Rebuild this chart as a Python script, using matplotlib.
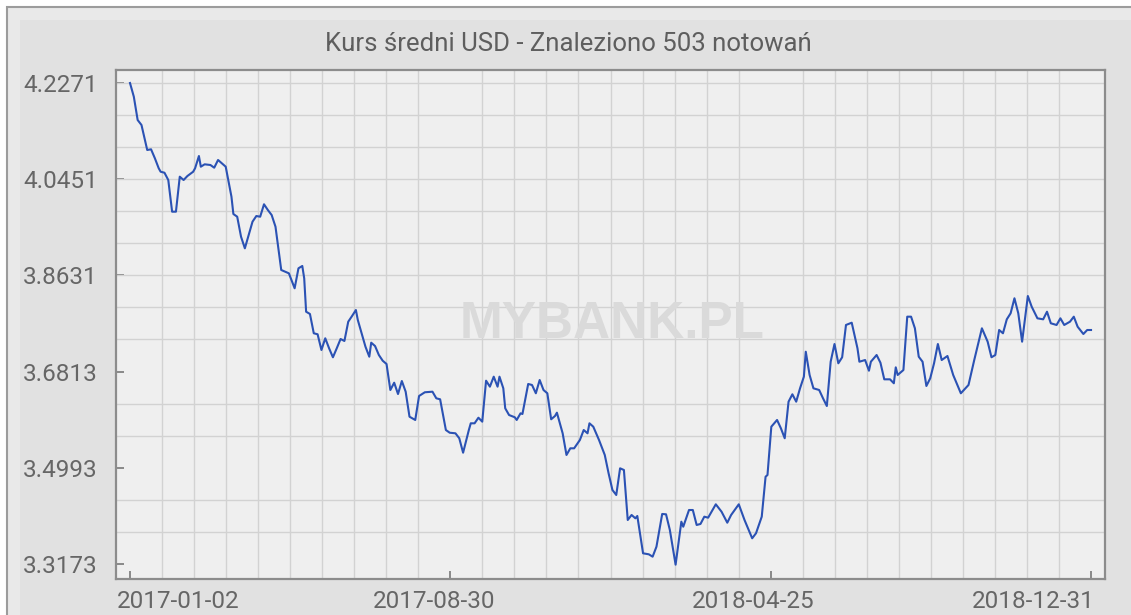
import matplotlib
matplotlib.use('Agg')
import matplotlib.pyplot as plt
import matplotlib.transforms as mtransforms
from matplotlib.patches import Rectangle

# trading-day index (0 = 2017-01-02, 502 = 2018-12-31) and average USD rate
day_index = [0, 2, 4, 6, 8, 9, 11, 13, 15, 16, 18, 20, 22, 24, 26, 28, 30, 33, 34, 36,
             37, 39, 42, 44, 46, 48, 50, 51, 53, 54, 56, 58, 60, 62, 64, 66, 68, 70, 72, 74,
             76, 79, 83, 86, 88, 90, 91, 92, 94, 96, 98, 100, 102, 104, 106, 108, 110, 112, 114, 116,
             118, 119, 123, 125, 126, 128, 130, 132, 134, 136, 138, 140, 142, 144, 146, 149, 151, 154, 158, 160,
             162, 165, 167, 170, 172, 174, 177, 178, 180, 182, 184, 186, 188, 190, 192, 193, 195, 196, 198, 201,
             202, 204, 205, 208, 210, 212, 214, 216, 218, 220, 222, 223, 226, 228, 230, 232, 235, 237, 239, 240,
             242, 245, 248, 250, 252, 254, 256, 258, 260, 262, 264, 265, 268, 271, 273, 275, 278, 280, 282, 285,
             288, 289, 292, 294, 296, 298, 300, 302, 306, 309, 312, 314, 318, 321, 325, 327, 330, 332, 333, 335,
             338, 340, 342, 344, 346, 348, 350, 352, 353, 355, 357, 360, 362, 364, 366, 368, 370, 372, 374, 377,
             380, 381, 384, 386, 387, 390, 392, 394, 397, 399, 400, 401, 404, 406, 408, 410, 412, 414, 416, 418,
             420, 422, 424, 427, 430, 434, 438, 441, 445, 448, 450, 452, 454, 456, 458, 460, 462, 464, 466, 469,
             471, 474, 477, 479, 481, 484, 486, 488, 491, 493, 495, 498, 500, 502]
usd_rate = [4.2271, 4.2012, 4.1571, 4.1477, 4.1161, 4.1004, 4.1017, 4.0847, 4.0658, 4.0593,
            4.0574, 4.0436, 3.9837, 3.9837, 4.0499, 4.0436, 4.0512, 4.0593, 4.0658, 4.0890,
            4.0688, 4.0733, 4.0720, 4.0669, 4.0815, 4.0752, 4.0688, 4.0499, 4.0120, 3.9793,
            3.9742, 3.9364, 3.9144, 3.9396, 3.9648, 3.9755, 3.9742, 3.9977, 3.9869, 3.9774,
            3.9553, 3.8734, 3.8671, 3.8388, 3.8766, 3.8810, 3.8577, 3.7945, 3.7902, 3.7537,
            3.7518, 3.7221, 3.7442, 3.7253, 3.7083, 3.7253, 3.7429, 3.7391, 3.7756, 3.7864,
            3.7977, 3.7788, 3.7283, 3.7094, 3.7359, 3.7296, 3.7126, 3.7018, 3.6956, 3.6464,
            3.6602, 3.6388, 3.6634, 3.6432, 3.5959, 3.5897, 3.6351, 3.6421, 3.6432, 3.6307,
            3.6288, 3.5707, 3.5656, 3.5645, 3.5551, 3.5278, 3.5707, 3.5834, 3.5834, 3.5940,
            3.5865, 3.6640, 3.6527, 3.6716, 3.6527, 3.6716, 3.6496, 3.6118, 3.5991, 3.5948,
            3.5897, 3.6023, 3.6010, 3.6578, 3.6559, 3.6402, 3.6653, 3.6464, 3.6402, 3.5910,
            3.5972, 3.6035, 3.5645, 3.5235, 3.5361, 3.5361, 3.5518, 3.5707, 3.5645, 3.5834,
            3.5770, 3.5518, 3.5235, 3.4888, 3.4573, 3.4478, 3.4983, 3.4951, 3.4005, 3.4100,
            3.4037, 3.4081, 3.3375, 3.3356, 3.3311, 3.3500, 3.4119, 3.4113, 3.3816, 3.3160,
            3.3973, 3.3878, 3.4194, 3.4194, 3.3911, 3.3930, 3.4068, 3.4049, 3.4302, 3.4162,
            3.3954, 3.4100, 3.4302, 3.4005, 3.3659, 3.3754, 3.4068, 3.4824, 3.4856, 3.5770,
            3.5897, 3.5740, 3.5551, 3.6243, 3.6383, 3.6243, 3.6496, 3.6716, 3.7188, 3.6748,
            3.6496, 3.6464, 3.6307, 3.6161, 3.6999, 3.7334, 3.6969, 3.7083, 3.7694, 3.7737,
            3.7253, 3.6999, 3.7031, 3.6829, 3.6999, 3.7126, 3.6980, 3.6666, 3.6666, 3.6591,
            3.6893, 3.6748, 3.6842, 3.7851, 3.7851, 3.7631, 3.7094, 3.6999, 3.6540, 3.6685,
            3.6969, 3.7334, 3.7031, 3.7107, 3.6748, 3.6402, 3.6559, 3.7031, 3.7631, 3.7378,
            3.7083, 3.7126, 3.7599, 3.7537, 3.7801, 3.7915, 3.8199, 3.7915, 3.7378, 3.8242,
            3.8040, 3.7820, 3.7801, 3.7945, 3.7726, 3.7694, 3.7820, 3.7694, 3.7756, 3.7851,
            3.7661, 3.7523, 3.7599, 3.7599]

tick_index = [0, 167.33, 334.67, 502]
tick_dates = ['2017-01-02', '2017-08-30', '2018-04-25', '2018-12-31']
y_ticks = [3.3173, 3.4993, 3.6813, 3.8631, 4.0451, 4.2271]
title = 'Kurs średni USD - Znaleziono 503 notowań'

W, H = 1131, 615
plt.rcParams['font.family'] = ['Roboto', 'DejaVu Sans']


def fig_box(x0, y0, x1, y1):
    """pixel box (top-left origin) -> figure fraction rect"""
    return (x0 / W, 1 - y1 / H, (x1 - x0) / W, (y1 - y0) / H)


fig = plt.figure(figsize=(W / 100, H / 100), dpi=100)
fig.patch.set_facecolor('white')

x, y, w, h = fig_box(7, 7, W + 5, H + 5)
fig.add_artist(Rectangle((x, y), w, h, transform=fig.transFigure,
                         facecolor='#e9e9e9', edgecolor='#9c9c9c', linewidth=1.5, zorder=0))
x, y, w, h = fig_box(20, 20, W + 5, H + 5)
fig.add_artist(Rectangle((x, y), w, h, transform=fig.transFigure,
                         facecolor='#e1e1e1', edgecolor='none', zorder=0))

fig.text(568 / W, 1 - 44 / H, title, ha='center', va='center', fontsize=18.5, color='#5e5e5e')

ax = fig.add_axes(fig_box(116, 70, 1105, 579))
ax.set_facecolor('#efefef')
ax.plot(day_index, usd_rate, color='#2b52b4', linewidth=1.5, zorder=3)

ax.set_xlim(-7.31, 509.3)
ax.set_ylim(3.2889, 4.2517)

# grid: three lines per y tick step, ten per x tick step
y_step = (y_ticks[1] - y_ticks[0]) / 3
ax.set_yticks([y_ticks[0] + i * y_step for i in range(16)], minor=True)
ax.set_xticks([i * 502 / 30 for i in range(31)], minor=True)
ax.grid(which='minor', color='#d2d2d2', linewidth=1)
ax.set_axisbelow(True)

ax.set_yticks(y_ticks)
ax.set_yticklabels([f'{v:.4f}' for v in y_ticks])
ax.set_xticks(tick_index)
ax.set_xticklabels(tick_dates)
ax.tick_params(which='major', direction='in', length=6, width=1.2, color='#777777',
               labelcolor='#666666', labelsize=17.5)
ax.tick_params(axis='y', pad=13)
ax.tick_params(axis='x', pad=8)
ax.tick_params(which='minor', length=0)

# label anchors as in the original widget
x_shift = [48, -16, -18, -58]
for lab, dx in zip(ax.get_xticklabels(), x_shift):
    off = mtransforms.ScaledTranslation(dx / 100, 0, fig.dpi_scale_trans)
    lab.set_transform(lab.get_transform() + off)

for side in ['left', 'bottom', 'top', 'right']:
    ax.spines[side].set_color('#8c8c8c')
    ax.spines[side].set_linewidth(1.6)

ax.text(0.502, 0.5, 'MYBANK.PL', transform=ax.transAxes, ha='center', va='center',
        fontsize=37, fontweight='bold', family='Liberation Sans', color='#dadada', zorder=2)

fig.savefig('out.png', dpi=100)
